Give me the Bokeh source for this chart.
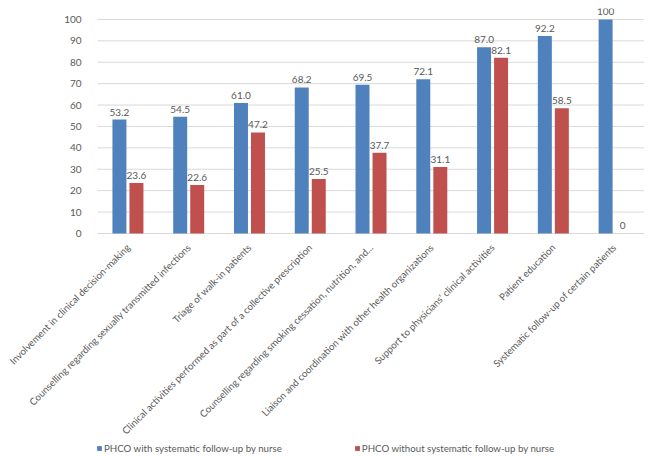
from bokeh.plotting import figure
from bokeh.models import (ColumnDataSource, Range1d, FixedTicker,
                          Legend, LegendItem)
from bokeh.core.properties import value
from bokeh.embed import file_html
from bokeh.resources import INLINE

categories = [
    "Involvement in clinical decision-making",
    "Counselling regarding sexually transmitted infections",
    "Triage of walk-in patients",
    "Clinical activities performed as part of a collective prescription",
    "Counselling regarding smoking cessation, nutrition, and...",
    "Liaison and coordination with other health organizations",
    "Support to physicians\u2019 clinical activities",
    "Patient education",
    "Systematic follow-up of certain patients",
]
with_followup = [53.2, 54.5, 61.0, 68.2, 69.5, 72.1, 87.0, 92.2, 100]
without_followup = [23.6, 22.6, 47.2, 25.5, 37.7, 31.1, 82.1, 58.5, 0]
series_names = ["PHCO with systematic follow-up by nurse",
                "PHCO without systematic follow-up by nurse"]
y_ticks = [0, 10, 20, 30, 40, 50, 60, 70, 80, 90, 100]

BLUE = "#4F81BD"
RED = "#C0504D"
TXT = "#595959"
GRID = "#D9D9D9"
FONT = "Lato"


def fmt(v):
    return str(int(v)) if v in (0, 100) else f"{v:.1f}"


n = len(categories)
pos = list(range(1, n + 1))
off = 0.14
w = 0.23

src = ColumnDataSource(dict(
    xa=[i - off for i in pos],
    xb=[i + off for i in pos],
    a=with_followup,
    b=without_followup,
    la=[fmt(v) for v in with_followup],
    lb=[fmt(v) for v in without_followup],
))

# numeric x scale: categories at 1..n, plot area from 0.5 to n+0.5;
# the frame extends left/down so rotated labels and legend are not clipped
p = figure(x_range=Range1d(-1.097, n + 0.5), y_range=Range1d(-104.2, 105.1),
           frame_width=644, frame_height=448,
           output_backend="svg", toolbar_location=None,
           min_border_left=0, min_border_right=4, min_border_top=8,
           min_border_bottom=0)
p.outline_line_color = None
p.background_fill_color = "white"
p.xgrid.grid_line_color = None
p.ygrid.grid_line_color = None

# horizontal gridlines over the plot area only
p.segment(x0=[0.5] * len(y_ticks), x1=[n + 0.5] * len(y_ticks),
          y0=y_ticks, y1=y_ticks, line_color=GRID, line_width=1)

ra = p.vbar(x="xa", top="a", width=w, source=src,
            fill_color=BLUE, line_color=None)
rb = p.vbar(x="xb", top="b", width=w, source=src,
            fill_color=RED, line_color=None)

for xc, col, lab in (("xa", "a", "la"), ("xb", "b", "lb")):
    p.text(x=xc, y=col, text=lab, source=src,
           text_align="center", text_baseline="bottom", y_offset=-4,
           text_font=value(FONT), text_font_size="10px", text_color=TXT)

p.yaxis.fixed_location = 0.5
p.yaxis.ticker = FixedTicker(ticks=y_ticks)
p.yaxis.axis_line_color = None
p.yaxis.major_tick_line_color = None
p.yaxis.minor_tick_line_color = None
p.yaxis.major_label_standoff = 10
p.yaxis.major_label_text_font = FONT
p.yaxis.major_label_text_font_size = "10px"
p.yaxis.major_label_text_color = TXT

p.xaxis.fixed_location = 0
p.xaxis.ticker = FixedTicker(ticks=pos)
p.xaxis.major_label_overrides = {i: c for i, c in zip(pos, categories)}
p.xaxis.axis_line_color = None
p.xaxis.major_tick_line_color = None
p.xaxis.minor_tick_line_color = None
p.xaxis.major_label_orientation = 0.785398
p.xaxis.major_label_standoff = 6
p.xaxis.major_label_text_font = FONT
p.xaxis.major_label_text_font_size = "9.7px"
p.xaxis.major_label_text_color = TXT

lg = Legend(items=[LegendItem(label=series_names[0], renderers=[ra]),
                   LegendItem(label=series_names[1], renderers=[rb])],
            location=(96, 2), orientation="horizontal",
            margin=0, padding=0, spacing=72, border_line_color=None,
            background_fill_alpha=0, glyph_width=6, glyph_height=6,
            label_standoff=2, label_text_font=FONT,
            label_text_font_size="9.7px", label_text_color=TXT,
            label_height=12)
p.add_layout(lg, "center")

open("out.html", "w").write(file_html(p, INLINE))
